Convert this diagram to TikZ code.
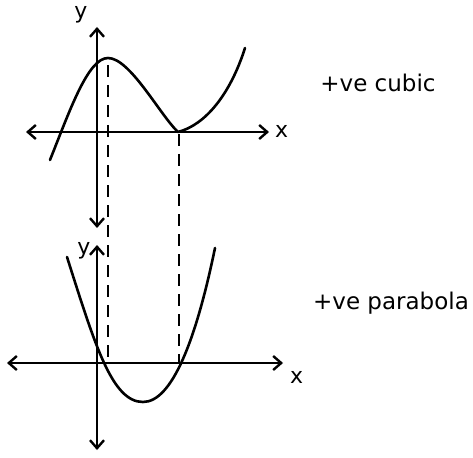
\documentclass[tikz,border=0pt]{standalone}
\usepackage{fontspec}
\setmainfont{DejaVu Sans}
\usetikzlibrary{arrows.meta}
\begin{document}
\begin{tikzpicture}[x=1pt,y=-1pt,
  axis/.style={line width=2.6pt,{Straight Barb[length=8pt,width=14pt,line width=2.4pt]}-{Straight Barb[length=8pt,width=14pt,line width=2.4pt]}},
  curve/.style={line width=2.6pt,line cap=round,line join=round},
  guide/.style={line width=2.6pt,dash pattern=on 12pt off 8pt},
  lbl/.style={font=\fontsize{23}{26}\selectfont,inner sep=0pt},
  axlbl/.style={font=\fontsize{22}{24}\selectfont,inner sep=0pt}]
\useasboundingbox (0,0) rectangle (473,457);
% top axes
\coordinate (tyt) at (97,27);
\coordinate (tyb) at (97,228);
\coordinate (txl) at (26,132);
\coordinate (txr) at (269,132);
\draw[axis] (tyb) -- (tyt);
\draw[axis] (txl) -- (txr);
\node[axlbl] (ty) at (81,15) {y};
\node[axlbl,anchor=west] (tx) at (275,131) {x};
% cubic
\coordinate (cst) at (50,160);
\coordinate (cmax) at (108,58);
\coordinate (cmin) at (178,132);
\coordinate (cend) at (245,48);
\draw[curve] (cst) .. controls (70,110) and (88,58) .. (cmax)
  .. controls (130,58) and (160,115) .. (cmin)
  .. controls (205,125) and (230,95) .. (cend);
% bottom axes
\coordinate (byt) at (97,245);
\coordinate (byb) at (97,450);
\coordinate (bxl) at (7,363);
\coordinate (bxr) at (283,363);
\draw[axis] (byb) -- (byt);
\draw[axis] (bxl) -- (bxr);
\node[axlbl] (by) at (84,251) {y};
\node[axlbl,anchor=west] (bx) at (290,377) {x};
% parabola
\coordinate (pst) at (67,257);
\coordinate (pmin) at (143,402);
\coordinate (pend) at (215,248);
\coordinate (pr1) at (108,363);
\coordinate (pr2) at (179,363);
\draw[curve] (pst) .. controls (95,345) and (112,402) .. (pmin)
  .. controls (172,402) and (196,340) .. (pend);
% guides
\draw[guide] (cmax) ++(0,7) -- (pr1);
\draw[guide] (cmin) ++(1,2) -- (pr2);
% labels
\node[lbl] (lc) at (378,83) {+ve cubic};
\node[lbl] (lp) at (391,303) {+ve parabola};
\end{tikzpicture}
\end{document}
